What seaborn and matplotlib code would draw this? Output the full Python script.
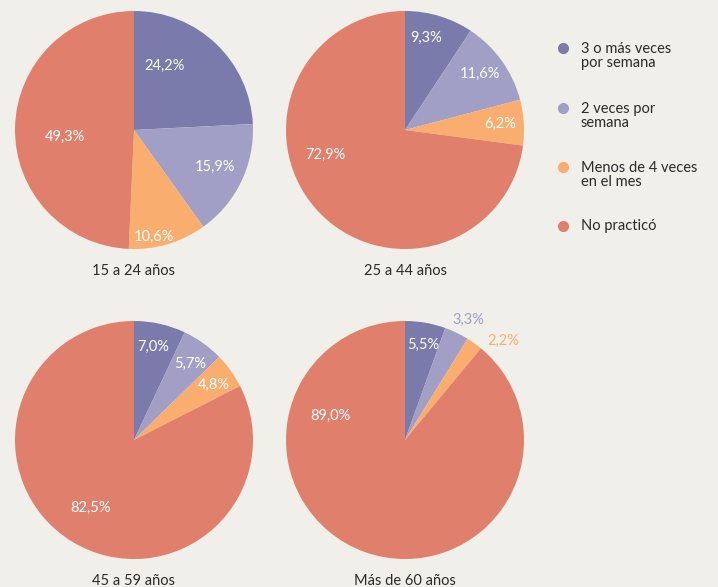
import numpy as np
import seaborn as sns
import matplotlib.pyplot as plt
from matplotlib.lines import Line2D

# Datos
categorias = ['3 o más veces\npor semana', '2 veces por\nsemana', 'Menos de 4 veces\nen el mes', 'No practicó']
grupos = ['15 a 24 años', '25 a 44 años', '45 a 59 años', 'Más de 60 años']
v_15_24 = [24.2, 15.9, 10.6, 49.3]
v_25_44 = [9.3, 11.6, 6.2, 72.9]
v_45_59 = [7.0, 5.7, 4.8, 82.5]
v_60 = [5.5, 3.3, 2.2, 89.0]
valores = [v_15_24, v_25_44, v_45_59, v_60]

colores = ['#7b7bab', '#a19fc5', '#f9ae70', '#e07f6c']
fondo = '#f0efea'

sns.set_style('white')
plt.rcParams['font.family'] = ['Lato', 'DejaVu Sans']

W, H = 718, 587
fig = plt.figure(figsize=(W / 100, H / 100), dpi=100, facecolor=fondo)

centros = [(134, 130), (405, 130), (134, 440), (405, 440)]
R = 119
# posicion de cada etiqueta: (distancia radial, giro en grados respecto al centro de la porcion)
pos_lab = [
    [(0.60, -18), (0.75, -1), (0.91, 6), (0.58, -7)],
    [(0.79, -4), (0.79, -1), (0.80, 0), (0.70, 24)],
    [(0.80, -1), (0.79, 1), (0.81, 1), (0.68, 1)],
    [(0.81, 1), (1.14, 2), (1.17, 9), (0.66, 88)],
]

for i, (cx, cy) in enumerate(centros):
    ax = fig.add_axes([(cx - R) / W, (H - cy - R) / H, 2 * R / W, 2 * R / H])
    ax.set_facecolor(fondo)
    vals = valores[i]
    wedges, _ = ax.pie(vals, colors=colores, startangle=90, counterclock=False,
                       radius=1, wedgeprops=dict(linewidth=0))
    ax.set_xlim(-1, 1)
    ax.set_ylim(-1, 1)
    ax.set_aspect('equal')
    ax.axis('off')
    total = sum(vals)
    acum = 0
    for j, v in enumerate(vals):
        d, giro = pos_lab[i][j]
        ang = np.deg2rad(360 * (acum + v / 2) / total + giro)  # horario desde arriba
        acum += v
        col = 'white' if d < 1 else colores[j]
        ax.text(d * np.sin(ang), d * np.cos(ang), f'{v:.1f}%'.replace('.', ','),
                ha='center', va='center', fontsize=10.5, color=col, clip_on=False)
    fig.text(cx / W, 1 - (cy + 141) / H, grupos[i], ha='center', va='center',
             fontsize=10.5, color='#2b2b2b')

# Leyenda
ly = [56, 116, 175, 226]
for k, cat in enumerate(categorias):
    ym = 1 - (ly[k] - (8 if '\n' in cat else 0)) / H
    fig.add_artist(Line2D([563 / W], [ym], marker='o', markersize=7, linestyle='none',
                          color=colores[k], transform=fig.transFigure))
    fig.text(581 / W, 1 - ly[k] / H, cat, ha='left', va='center', fontsize=10.5,
             color='#2b2b2b', linespacing=1.05)

fig.savefig('out.png', dpi=100, facecolor=fondo)
